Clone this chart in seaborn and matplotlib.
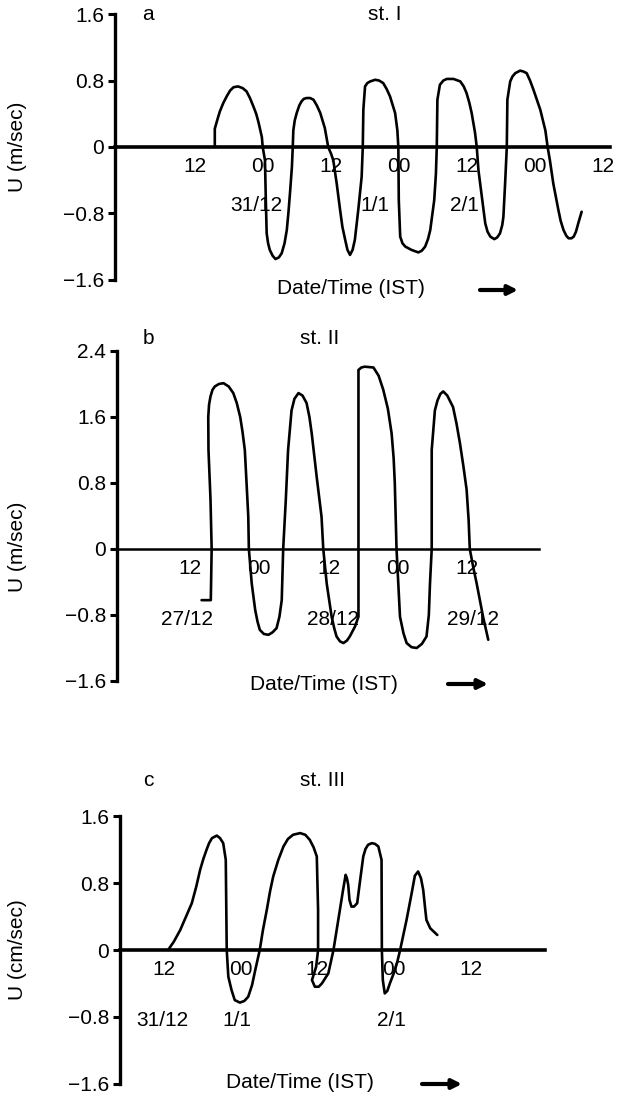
import matplotlib
matplotlib.use('Agg')
import matplotlib.pyplot as plt
import seaborn as sns

# ---- st. I : hours from 00h 30/12, U in m/sec (one row per half cycle)
hour_a = [15.5, 15.5, 16.0, 16.4, 17.0, 17.6, 18.2, 18.8, 19.6, 20.4, 21.1, 21.7, 22.3, 22.8, 23.2, 23.8, 23.95,
          24.35, 24.5, 24.65, 24.9, 25.2, 25.7, 26.2, 26.8, 27.3, 27.8, 28.2, 28.5, 28.8, 29.1, 29.25,
          29.35, 29.6, 29.95, 30.4, 30.8, 31.2, 31.7, 32.3, 32.9, 33.5, 34.1, 34.9, 35.5,
          36.0, 36.4, 37.0, 37.6, 38.0, 38.5, 38.9, 39.35, 39.8, 40.2, 40.8, 41.4, 41.6,
          41.7, 42.0, 42.4, 42.9, 43.8, 44.5, 45.2, 45.8, 46.4, 47.3, 47.7, 47.87,
          47.95, 48.2, 48.6, 49.1, 50.2, 51.4, 52.0, 52.6, 53.1, 53.5, 54.2, 54.5, 54.65,
          54.76, 55.2, 55.8, 56.4, 57.6, 58.8, 59.4, 59.9, 60.4, 60.8, 61.4, 61.7,
          62.0, 62.6, 63.2, 63.6, 64.1, 64.8, 65.3, 65.8, 66.2, 66.4, 66.7, 67.0,
          67.1, 67.6, 68.0, 68.5, 69.35, 69.9, 70.5, 71.1, 71.7, 72.3, 72.9, 73.8, 74.2,
          74.6, 75.2, 76.1, 76.5, 77.0, 77.5, 77.9, 78.4, 78.8, 79.2, 79.6, 80.2]
u_a = [0, 0.22, 0.34, 0.43, 0.53, 0.61, 0.68, 0.72, 0.73, 0.71, 0.67, 0.59, 0.49, 0.40, 0.30, 0.12, 0,
       -0.16, -0.64, -1.04, -1.16, -1.24, -1.31, -1.35, -1.33, -1.28, -1.16, -1.0, -0.78, -0.52, -0.24, 0,
       0.20, 0.32, 0.41, 0.50, 0.55, 0.58, 0.59, 0.59, 0.57, 0.50, 0.41, 0.23, 0,
       -0.08, -0.16, -0.44, -0.76, -0.96, -1.12, -1.24, -1.30, -1.24, -1.12, -0.76, -0.36, 0,
       0.45, 0.73, 0.77, 0.79, 0.81, 0.80, 0.77, 0.70, 0.61, 0.41, 0.20, 0,
       -0.64, -1.08, -1.16, -1.20, -1.24, -1.27, -1.25, -1.20, -1.11, -1.0, -0.64, -0.32, 0,
       0.57, 0.75, 0.80, 0.82, 0.82, 0.79, 0.73, 0.65, 0.53, 0.41, 0.17, 0,
       -0.28, -0.60, -0.92, -1.02, -1.08, -1.11, -1.09, -1.04, -0.94, -0.84, -0.44, 0,
       0.57, 0.79, 0.85, 0.89, 0.92, 0.91, 0.89, 0.80, 0.69, 0.57, 0.45, 0.20, 0,
       -0.16, -0.44, -0.76, -0.89, -1.0, -1.07, -1.10, -1.10, -1.08, -1.02, -0.92, -0.78]

# ---- st. II : hours from 00h 27/12, U in m/sec
hour_b = [14.0, 15.6, 15.75, 15.55, 15.2, 15.16, 15.3, 15.55, 15.9, 16.3, 17.0, 17.8, 18.7, 19.5, 20.1, 20.7, 21.1, 21.5, 21.8, 22.1, 22.2,
          22.7, 23.3, 23.7, 24.1, 24.8, 25.6, 26.3, 27.0, 27.5, 27.9, 28.15,
          28.6, 29.0, 29.6, 30.1, 30.8, 31.5, 32.2, 32.7, 33.1, 33.95, 34.8, 35.1,
          35.7, 36.55, 37.0, 37.4, 38.0, 38.6, 39.2, 39.7, 40.6, 41.2, 41.2,
          41.2, 41.7, 42.3, 43.8, 44.7, 45.5, 46.3, 46.95, 47.3, 47.5, 47.8,
          48.4, 49.0, 49.55, 50.4, 51.3, 52.2, 53.0, 53.4, 53.6, 53.9,
          53.9, 54.45, 54.9, 55.4, 55.9, 56.6, 57.6, 58.2, 58.8, 59.4, 59.95, 60.3, 60.5,
          61.1, 61.7, 62.8, 63.7]
u_b = [-0.62, -0.62, 0, 0.6, 1.2, 1.6, 1.75, 1.85, 1.93, 1.97, 2.0, 2.01, 1.97, 1.89, 1.77, 1.60, 1.42, 1.20, 0.80, 0.39, 0,
       -0.42, -0.74, -0.88, -0.98, -1.03, -1.04, -1.01, -0.96, -0.82, -0.62, 0,
       0.59, 1.20, 1.68, 1.82, 1.89, 1.86, 1.77, 1.60, 1.40, 0.88, 0.39, 0,
       -0.42, -0.82, -0.96, -1.06, -1.12, -1.14, -1.11, -1.06, -0.94, -0.82, 0,
       2.17, 2.20, 2.21, 2.20, 2.10, 1.93, 1.70, 1.40, 1.10, 0.80, 0,
       -0.82, -1.02, -1.14, -1.19, -1.20, -1.15, -1.06, -0.80, -0.42, 0,
       1.20, 1.68, 1.80, 1.88, 1.91, 1.86, 1.72, 1.52, 1.28, 1.00, 0.72, 0.35, 0,
       -0.22, -0.42, -0.82, -1.10]

# ---- st. III : hours from 00h 31/12, U in cm/sec
hour_c = [12.7, 13.6, 14.6, 15.5, 16.4, 17.1, 17.7, 18.2, 18.7, 19.1, 19.55, 20.3, 20.8, 21.3, 21.7, 21.85,
          22.1, 22.6, 23.1, 23.9, 24.6, 25.2, 25.8, 26.3, 27.0,
          27.5, 28.1, 28.6, 29.1, 29.9, 30.7, 31.4, 32.2, 33.3, 34.1, 34.8, 35.4, 35.9, 36.1, 36.1,
          35.8, 35.15, 35.6, 36.2, 36.7, 37.7, 38.5,
          39.0, 39.5, 40.0, 40.4, 40.6, 40.8, 41.0, 41.3, 41.7, 42.2, 42.6, 43.15, 43.5, 43.9, 44.5, 45.0, 45.5, 46.0, 46.05,
          46.2, 46.5, 46.9, 47.3, 47.9, 48.4, 48.9,
          49.4, 49.9, 50.3, 50.7, 51.2, 51.7, 52.15, 52.5, 52.8, 53.0, 53.6, 54.7]
u_c = [0, 0.10, 0.24, 0.40, 0.56, 0.76, 0.96, 1.09, 1.20, 1.28, 1.34, 1.37, 1.34, 1.28, 1.08, 0,
       -0.32, -0.48, -0.60, -0.63, -0.61, -0.56, -0.42, -0.24, 0,
       0.24, 0.48, 0.70, 0.88, 1.08, 1.24, 1.33, 1.38, 1.40, 1.38, 1.32, 1.23, 1.12, 0.48, 0,
       -0.20, -0.36, -0.44, -0.44, -0.40, -0.28, 0,
       0.24, 0.48, 0.72, 0.90, 0.86, 0.78, 0.60, 0.52, 0.52, 0.56, 0.80, 1.12, 1.21, 1.26, 1.28, 1.27, 1.24, 1.08, 0,
       -0.36, -0.52, -0.49, -0.40, -0.28, -0.16, 0,
       0.18, 0.36, 0.52, 0.68, 0.89, 0.94, 0.86, 0.72, 0.50, 0.36, 0.26, 0.18]

# axis ticks / labels
ticks_a = [12, 24, 36, 48, 60, 72, 84]
ticklab_a = ['12', '00', '12', '00', '12', '00', '12']
ticks_bc = [12, 24, 36, 48, 60]
ticklab_bc = ['12', '00', '12', '00', '12']
yt_ac = [1.6, 0.8, 0, -0.8, -1.6]
ylab_ac = ['1.6', '0.8', '0', '\u22120.8', '\u22121.6']
yt_b = [2.4, 1.6, 0.8, 0, -0.8, -1.6]
ylab_b = ['2.4', '1.6', '0.8', '0', '\u22120.8', '\u22121.6']

dates_a = ['31/12', '1/1', '2/1']
date_hr_a = [22.9, 43.8, 59.6]
dates_b = ['27/12', '28/12', '29/12']
date_hr_b = [11.5, 36.8, 61.0]
dates_c = ['31/12', '1/1', '2/1']
date_hr_c = [11.75, 23.45, 47.6]

sns.set_style('white')
plt.rcParams['font.family'] = ['Liberation Sans', 'DejaVu Sans']
plt.rcParams.update({'text.color': 'black', 'axes.edgecolor': 'black',
                     'xtick.color': 'black', 'ytick.color': 'black',
                     'axes.labelcolor': 'black'})
FS = 15

W, H = 619, 1095
fig = plt.figure(figsize=(W / 100, H / 100), dpi=100)


def box(l, r, t, b):
    return [l / W, 1 - b / H, (r - l) / W, (b - t) / H]


def fpos(x, y):
    return (x / W, 1 - y / H)


def panel(rect, hrs, u, xlim, ylim, xt, xlab, yt, ylab, dates, date_hr,
          date_u, letter, title, unit, lab_pos, zero_lw):
    ax = fig.add_axes(rect)
    sns.lineplot(x=hrs, y=u, sort=False, estimator=None, color='black',
                 lw=1.9, ax=ax)
    ax.lines[-1].set_solid_joinstyle('round')
    ax.set_xlim(*xlim)
    ax.set_ylim(*ylim)
    for s in ['top', 'right']:
        ax.spines[s].set_visible(False)
    ax.spines['bottom'].set_position(('data', 0))
    ax.spines['bottom'].set_linewidth(zero_lw)
    ax.spines['left'].set_linewidth(2.4)
    ax.set_xticks(xt)
    ax.set_xticklabels(xlab)
    ax.set_yticks(yt)
    ax.set_yticklabels(ylab)
    ax.tick_params(axis='x', length=0, pad=7, labelsize=FS)
    ax.tick_params(axis='y', length=5, width=2.2, direction='out',
                   labelsize=FS, pad=3, left=True)
    for s, h in zip(dates, date_hr):
        ax.text(h, date_u, s, ha='center', va='center', fontsize=FS)
    # panel letter, station, axis labels, arrow
    (lx, ly), (sx, sy), (yx, yy), (xx, xy), (a0, a1, ay) = lab_pos
    fig.text(*fpos(lx, ly), letter, ha='center', va='center', fontsize=FS)
    fig.text(*fpos(sx, sy), title, ha='center', va='center', fontsize=FS)
    fig.text(*fpos(yx, yy), unit, ha='center', va='center', fontsize=FS,
             rotation=90)
    fig.text(*fpos(xx, xy), 'Date/Time (IST)', ha='center', va='center',
             fontsize=FS)
    ax.annotate('', xy=fpos(a1, ay), xytext=fpos(a0, ay),
                xycoords='figure fraction', textcoords='figure fraction',
                annotation_clip=False,
                arrowprops=dict(arrowstyle='-|>', lw=3, color='black',
                                mutation_scale=14, shrinkA=0, shrinkB=0))
    return ax


panel(box(115, 610, 14.2, 279.8), hour_a, u_a, (-2.1, 85.2), (-1.6, 1.6),
      ticks_a, ticklab_a, yt_ac, ylab_ac, dates_a, date_hr_a, -0.70,
      'a', 'st. I', 'U (m/sec)',
      [(148, 15), (385, 15), (18, 147), (351, 288), (480, 518, 290)], 2.6)

panel(box(117, 539, 351, 681), hour_b, u_b, (-0.66, 72.5), (-1.6, 2.4),
      ticks_bc, ticklab_bc, yt_b, ylab_b, dates_b, date_hr_b, -0.86,
      'b', 'st. II', 'U (m/sec)',
      [(148, 338), (320, 338), (18, 547), (324, 684), (448, 488, 684)], 1.8)

panel(box(120, 545, 816.4, 1083.6), hour_c, u_c, (5.2, 71.5), (-1.6, 1.6),
      ticks_bc, ticklab_bc, yt_ac, ylab_ac, dates_c, date_hr_c, -0.84,
      'c', 'st. III', 'U (cm/sec)',
      [(148, 780), (322, 780), (18, 950), (300, 1082), (422, 462, 1084)], 2.6)

fig.savefig('out.png', dpi=100)
